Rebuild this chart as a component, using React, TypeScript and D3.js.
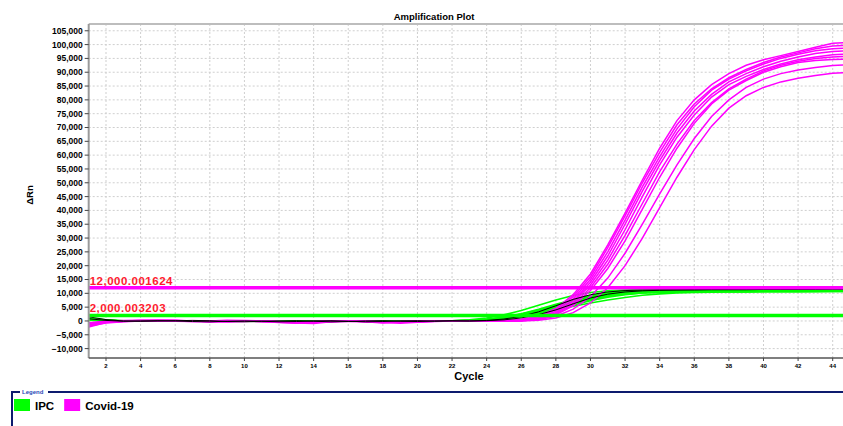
import { useEffect, useRef } from 'react';
import * as d3 from 'd3';

// ΔRn per cycle (cycles 1..45)
const covidCurves: number[][] = [
  [-2200, -600, -200, 100, 300, 200, -100, -300, -200, 100, 0, -400, -500, -300, -100, 0, -200, -500, -300, -100, 0, 100, -100, 0, 200, 600, 1800, 4500, 9500, 17000, 27500, 39000, 51000, 62500, 72500, 80000, 85500, 89500, 92500, 94500, 96000, 97500, 99000, 100500, 100800],
  [-1200, -400, 0, 200, 100, -100, -200, 0, 300, 100, -200, -600, -800, -400, 0, 100, -300, -700, -600, -200, 0, -100, 0, 100, 100, 400, 1500, 4000, 8800, 16000, 26500, 38000, 50000, 61000, 71000, 78500, 84000, 88000, 91000, 93500, 95500, 97000, 98500, 99500, 99800],
  [-900, -200, 100, 0, 200, 300, 0, -200, -100, 0, -300, -500, -700, -900, -300, 0, -100, -400, -800, -500, -200, 0, 100, 0, 0, 300, 1200, 3500, 8000, 15000, 25000, 36500, 48500, 59500, 69500, 77500, 83500, 87500, 90500, 93000, 95000, 96500, 97800, 98500, 98800],
  [-1500, -500, -100, 100, 0, -100, 100, 0, -300, -200, 0, -300, -400, -200, 0, -100, -300, -600, -400, -100, 100, 0, -100, 100, 0, 200, 1000, 3000, 7200, 14000, 23500, 35000, 47000, 58000, 68000, 76000, 82000, 86500, 89500, 92000, 94000, 95500, 96800, 97500, 97800],
  [-600, -100, 200, 300, 100, 0, -200, -100, 100, 200, 0, -200, -400, -300, -200, -100, -200, -300, -200, 0, 100, 0, 0, -100, 0, 200, 900, 2800, 6800, 13000, 22000, 33000, 45000, 56500, 66500, 74500, 81000, 85500, 88500, 91000, 93000, 94500, 95500, 96300, 96600],
  [-1800, -700, -300, 0, 100, 0, -100, -200, 0, 100, -100, -400, -600, -500, -200, 0, -100, -500, -400, -300, 0, 100, 0, 0, 100, 200, 800, 2500, 6000, 12000, 20500, 31000, 42500, 54000, 64000, 72500, 79000, 84000, 87500, 90500, 92500, 94000, 95000, 95500, 95800],
  [-1000, -300, 0, 200, 300, 100, -100, -300, -100, 0, -200, -300, -500, -600, -300, -100, 0, -300, -500, -300, -100, 0, 100, 100, 0, 100, 700, 2200, 5500, 11000, 19000, 29000, 40500, 52000, 62500, 71500, 78500, 83500, 87000, 90000, 92000, 93500, 94200, 94600, 94800],
  [-800, -200, 0, 100, 200, 100, 0, -100, -200, 0, 100, -200, -400, -300, -100, 0, -200, -400, -300, -200, 0, 0, 100, 0, 0, 100, 500, 1700, 4300, 8800, 15500, 24500, 35000, 46000, 56500, 66000, 74000, 80000, 84500, 87500, 89500, 90800, 91700, 92400, 92700],
  [-1400, -500, -100, 0, 100, 200, 0, -200, -300, -100, 0, -300, -500, -400, -200, 0, -100, -300, -500, -400, -100, 0, 0, 100, 0, 0, 300, 1100, 3000, 6500, 12000, 20000, 30000, 41000, 52000, 62000, 70500, 77000, 81500, 84500, 86500, 87800, 88800, 89600, 90000],
];

const ipcCurves: number[][] = [
  [800, 300, 100, 0, 100, 0, -100, 0, 100, 0, -100, -200, -100, 0, 100, 0, -100, -200, -100, 0, 100, 100, 400, 1100, 2200, 3800, 5700, 7600, 9200, 10300, 10900, 11200, 11400, 11500, 11500, 11600, 11600, 11600, 11700, 11700, 11700, 11700, 11800, 11800, 11800],
  [600, 200, 0, 100, 0, -100, 0, 100, 0, -100, -200, -100, 0, 100, 0, -100, 0, -100, -200, 0, 0, 100, 200, 600, 1400, 2600, 4200, 6000, 7700, 9200, 10200, 10900, 11300, 11400, 11500, 11500, 11600, 11600, 11700, 11700, 11700, 11800, 11800, 11800, 11800],
  [1000, 400, 100, 0, -100, 0, 100, 0, -100, 0, 100, 0, -200, -100, 0, 100, 0, -100, 0, 100, 0, 0, 200, 500, 1200, 2300, 3800, 5500, 7200, 8700, 9800, 10500, 10900, 11100, 11200, 11300, 11300, 11400, 11400, 11500, 11500, 11500, 11600, 11600, 11600],
  [500, 100, 0, 0, 100, 100, 0, -100, 0, 0, -100, -100, 0, 0, 100, 0, -100, -100, 0, 0, 0, 100, 100, 400, 1000, 2000, 3400, 5000, 6700, 8200, 9400, 10200, 10700, 10900, 11000, 11100, 11100, 11200, 11200, 11300, 11300, 11300, 11400, 11400, 11400],
  [700, 200, 0, -100, 0, 100, 100, 0, -100, -100, 0, -100, -200, 0, 0, 100, 0, -200, -100, 0, 100, 0, 100, 300, 900, 1800, 3100, 4600, 6200, 7700, 8900, 9800, 10300, 10600, 10800, 10900, 11000, 11000, 11100, 11100, 11200, 11200, 11200, 11300, 11300],
  [400, 100, 0, 100, 0, 0, -100, 0, 100, 0, 0, -100, -100, 0, 100, 0, 0, -100, 0, 0, 0, 0, 100, 300, 800, 1600, 2800, 4200, 5800, 7300, 8600, 9500, 10100, 10400, 10600, 10700, 10800, 10800, 10900, 10900, 11000, 11000, 11000, 11100, 11100],
  [300, 0, 0, 100, 0, -100, 0, 100, 0, -100, 0, -100, 0, 0, 100, 0, -100, 0, -100, 0, 0, 0, 0, 200, 700, 1500, 2700, 4000, 5300, 6500, 7600, 8500, 9300, 9800, 10100, 10300, 10400, 10500, 10500, 10600, 10600, 10600, 10700, 10700, 10700],
  [900, 300, 0, 0, 100, 0, 0, -100, -100, 0, 100, 0, -100, -100, 0, 0, 100, 0, -100, 0, 0, 100, 200, 600, 1300, 2500, 4000, 5800, 7500, 9000, 10000, 10700, 11100, 11300, 11400, 11400, 11500, 11500, 11500, 11600, 11600, 11600, 11700, 11700, 11700],
  [500, 200, 0, 100, 0, -100, 0, 0, 100, 0, -100, 0, -100, 0, 0, 100, 0, -100, 0, 0, 0, 0, 100, 400, 1000, 2100, 3500, 5100, 6700, 8000, 9000, 9700, 10100, 10300, 10400, 10400, 10500, 10500, 10500, 10600, 10600, 10600, 10600, 10700, 10700],
];

const otherCurves: number[][] = [
  [1500, 500, 0, -100, 0, 100, 200, 100, -200, -300, -100, 0, 100, -100, -300, -200, 0, 100, -100, -200, 0, 100, 0, 200, 700, 1700, 3300, 5500, 7800, 9500, 10500, 11000, 11200, 11300, 11300, 11400, 11400, 11400, 11500, 11500, 11500, 11500, 11600, 11600, 11600],
  [800, 200, -100, 0, 100, 0, -200, -300, -100, 0, -100, -300, -200, 0, 100, -100, -300, -200, 0, 100, -100, 0, 0, 100, 400, 1100, 2300, 4000, 6200, 8300, 9700, 10500, 10900, 11100, 11200, 11200, 11300, 11300, 11300, 11400, 11400, 11400, 11400, 11500, 11500],
];

const thresholds = [
  { value: 12000, label: '12,000.001624', color: '#ff00ff' },
  { value: 2000, label: '2,000.003203', color: '#00ff00' },
];

const legendItems = [
  { label: 'IPC', color: '#00ff00' },
  { label: 'Covid-19', color: '#ff00ff' },
];

const xTicks = d3.range(2, 45, 2);
const yTicks = d3.range(-10000, 105001, 5000);

function App() {
  const svgRef = useRef<SVGSVGElement>(null);

  useEffect(() => {
    const W = 843;
    const H = 426;
    const left = 88.7;
    const top = 24;
    const bottom = 358;
    const font = '"Liberation Sans", Arial, sans-serif';

    const svg = d3.select(svgRef.current);
    svg.selectAll('*').remove();
    svg.attr('width', W).attr('height', H).style('font-family', font);

    svg.append('rect').attr('width', W).attr('height', H).attr('fill', '#fff');

    const x = d3.scaleLinear().domain([1, 45]).range([left, 850]);
    const y = d3.scaleLinear().domain([-13400, 107450]).range([bottom, top]);

    svg
      .append('defs')
      .append('clipPath')
      .attr('id', 'plotClip')
      .append('rect')
      .attr('x', left)
      .attr('y', top)
      .attr('width', W - left)
      .attr('height', bottom - top);

    // grid
    const grid = svg.append('g');
    grid
      .selectAll('.hg')
      .data(yTicks)
      .enter()
      .append('line')
      .attr('x1', left)
      .attr('x2', W)
      .attr('y1', (d) => y(d))
      .attr('y2', (d) => y(d))
      .attr('stroke', '#cfcfcf')
      .attr('stroke-dasharray', '2,2');
    grid
      .selectAll('.vg')
      .data(xTicks)
      .enter()
      .append('line')
      .attr('x1', (d) => x(d))
      .attr('x2', (d) => x(d))
      .attr('y1', top)
      .attr('y2', bottom)
      .attr('stroke', '#cfcfcf')
      .attr('stroke-dasharray', '2,2');

    // curves
    const line = d3
      .line<number>()
      .x((_, i) => x(i + 1))
      .y((d) => y(d));

    const plot = svg.append('g').attr('clip-path', 'url(#plotClip)');

    const drawSet = (curves: number[][], color: string, w: number) => {
      plot
        .append('g')
        .selectAll('path')
        .data(curves)
        .enter()
        .append('path')
        .attr('d', (d) => line(d))
        .attr('fill', 'none')
        .attr('stroke', color)
        .attr('stroke-width', w);
    };
    drawSet(ipcCurves, '#00ff00', 1.6);
    drawSet(covidCurves, '#ff00ff', 1.5);
    drawSet(otherCurves, '#000000', 1);

    // thresholds
    thresholds.forEach((t) => {
      plot
        .append('line')
        .attr('x1', left)
        .attr('x2', W)
        .attr('y1', y(t.value))
        .attr('y2', y(t.value))
        .attr('stroke', t.color)
        .attr('stroke-width', 3.5);
      svg
        .append('text')
        .attr('x', left + 1)
        .attr('y', y(t.value) - 3)
        .attr('fill', '#ff1a2e')
        .style('font-size', '11.5px')
        .style('font-weight', 'bold')
        .style('letter-spacing', '0.5px')
        .text(t.label);
    });

    // frame
    svg.append('line').attr('x1', left).attr('x2', W).attr('y1', top).attr('y2', top)
      .attr('stroke', '#bdbdbd').attr('stroke-width', 2);
    svg.append('line').attr('x1', left).attr('x2', left).attr('y1', top).attr('y2', bottom)
      .attr('stroke', '#9a9a9a').attr('stroke-width', 2);
    svg.append('line').attr('x1', left).attr('x2', W).attr('y1', bottom).attr('y2', bottom)
      .attr('stroke', '#555').attr('stroke-width', 1.5);

    // y axis
    const yAxis = svg.append('g');
    yAxis
      .selectAll('line')
      .data(yTicks)
      .enter()
      .append('line')
      .attr('x1', left - 4)
      .attr('x2', left)
      .attr('y1', (d) => y(d))
      .attr('y2', (d) => y(d))
      .attr('stroke', '#444');
    yAxis
      .selectAll('text')
      .data(yTicks)
      .enter()
      .append('text')
      .attr('x', left - 6)
      .attr('y', (d) => y(d))
      .attr('dy', '0.35em')
      .attr('text-anchor', 'end')
      .style('font-size', '8.5px')
      .style('font-weight', 'bold')
      .text((d) => d3.format(',')(d));

    // x axis
    const xAxis = svg.append('g');
    xAxis
      .selectAll('line')
      .data(xTicks)
      .enter()
      .append('line')
      .attr('x1', (d) => x(d))
      .attr('x2', (d) => x(d))
      .attr('y1', bottom)
      .attr('y2', bottom + 3)
      .attr('stroke', '#444');
    xAxis
      .selectAll('text')
      .data(xTicks)
      .enter()
      .append('text')
      .attr('x', (d) => x(d))
      .attr('y', bottom + 10)
      .attr('text-anchor', 'middle')
      .style('font-size', '6px')
      .style('font-weight', 'bold')
      .text((d) => d);

    // titles
    svg.append('text').attr('x', 434).attr('y', 20).attr('text-anchor', 'middle')
      .style('font-size', '9.5px').style('font-weight', 'bold').text('Amplification Plot');
    svg.append('text').attr('transform', 'translate(33,195) rotate(-90)').attr('text-anchor', 'middle')
      .style('font-size', '9.5px').style('font-weight', 'bold').text('ΔRn');
    svg.append('text').attr('x', 469).attr('y', 380).attr('text-anchor', 'middle')
      .style('font-size', '11px').style('font-weight', 'bold').text('Cycle');

    // legend
    svg.append('path').attr('d', `M12,${H}V392H${W}`).attr('fill', 'none')
      .attr('stroke', '#0d1b6e').attr('stroke-width', 2);
    svg.append('rect').attr('x', 20).attr('y', 388).attr('width', 28).attr('height', 7).attr('fill', '#fff');
    svg.append('text').attr('x', 22).attr('y', 394).attr('fill', '#2a4ab8')
      .style('font-size', '6px').style('font-weight', 'bold').text('Legend');

    let lx = 14;
    legendItems.forEach((item) => {
      svg.append('rect').attr('x', lx).attr('y', 399).attr('width', 16).attr('height', 12)
        .attr('fill', item.color);
      const t = svg.append('text').attr('x', lx + 21).attr('y', 410)
        .style('font-size', '11.5px').style('font-weight', 'bold').text(item.label);
      const w = (t.node() as SVGTextElement).getComputedTextLength();
      lx += 21 + w + 10;
    });
  }, []);

  return <svg ref={svgRef} style={{ position: 'absolute', left: 0, top: 0 }}></svg>;
}

export default App;
